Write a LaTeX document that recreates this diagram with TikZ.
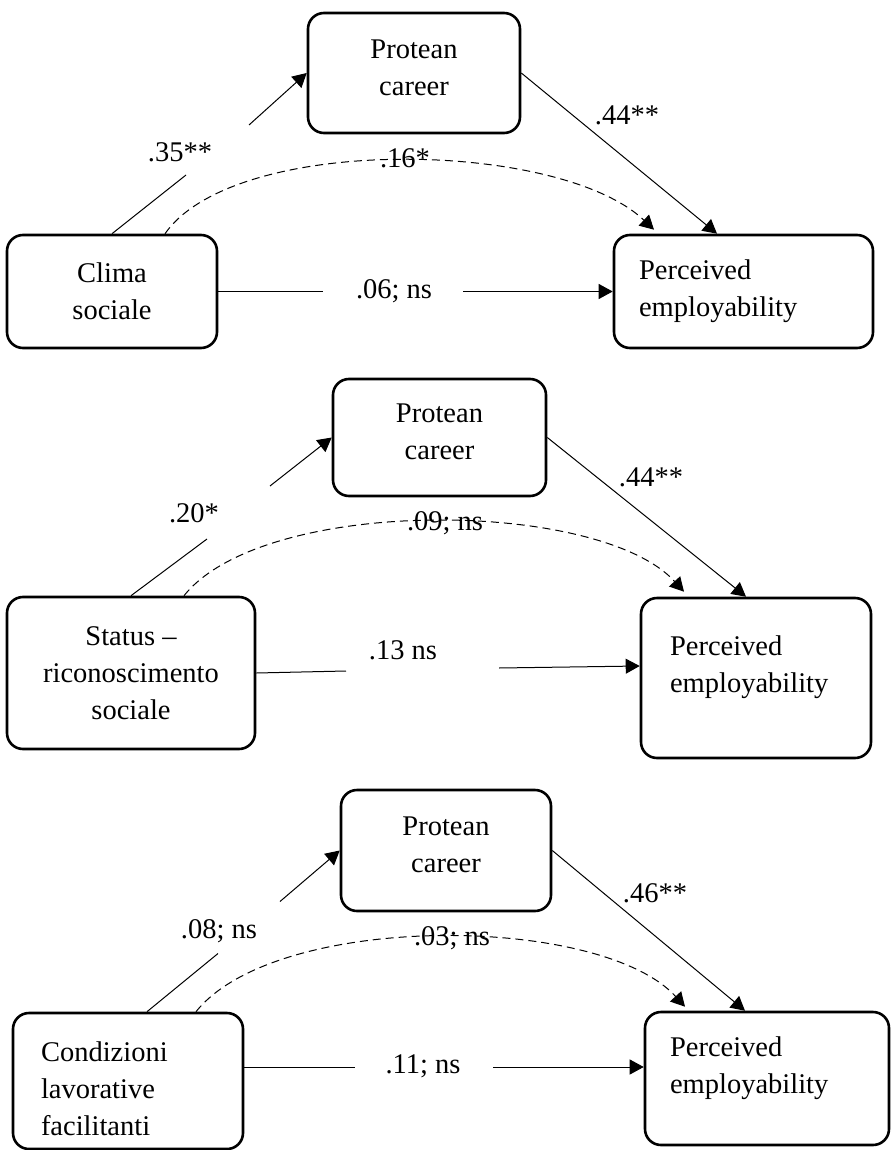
\documentclass[tikz,border=0pt]{standalone}
\usepackage{fontspec}
\setmainfont{Liberation Serif}
\usetikzlibrary{arrows.meta}

\tikzset{
  varbox/.style={draw, line width=2.6pt, rounded corners=16pt, align=center, inner sep=0pt},
  leftbox/.style={varbox, align=left},
  link/.style={line width=1pt},
  arrowlink/.style={link, -{Triangle[length=14pt,width=15pt]}},
  indirect/.style={arrowlink, dash pattern=on 8pt off 5pt},
  coef/.style={inner sep=0pt},
}

\begin{document}
\begin{tikzpicture}[x=1pt,y=-1pt,font=\fontsize{28.5}{37}\selectfont]
\useasboundingbox (0,0) rectangle (891,1150);

\node[varbox, minimum width=212, minimum height=120] (pc1) at (414,73) {Protean\\career\\[-26pt]\mbox{}};
\node[varbox, minimum width=210, minimum height=113] (cs1) at (112,291.5) {Clima\\sociale};
\node[leftbox, text width=209, inner xsep=25, minimum height=113] (pe1) at (743.5,291.5) {Perceived\\employability};
\coordinate (g1a) at (186,175);
\coordinate (g1b) at (249,125);
\coordinate (g1c) at (323,291.5);
\coordinate (g1d) at (463,291.5);
\draw[link] (cs1.north) -- (g1a);
\draw[arrowlink] (g1b) -- (pc1.west);
\draw[indirect] ([xshift=53]cs1.north) .. controls +(70,-100) and +(-95,-90) .. ([xshift=-89.5,yshift=4]pe1.north);
\draw[arrowlink] (pc1.east) -- ([xshift=-26.5]pe1.north);
\draw[link] (cs1.east) -- (g1c);
\draw[arrowlink] (g1d) -- (pe1.west);
\node[coef] (c1a) at (180,152) {.35**};
\node[coef] (c1b) at (405,158) {.16*};
\node[coef] (c1c) at (627,115) {.44**};
\node[coef] (c1d) at (394,291) {.06; ns};

\node[varbox, minimum width=213, minimum height=117] (pc2) at (439.5,437.5) {Protean\\career\\[-26pt]\mbox{}};
\node[varbox, minimum width=248, minimum height=152] (sr2) at (131,673) {Status –\\riconoscimento\\sociale};
\node[leftbox, text width=172, inner xsep=29, minimum height=160] (pe2) at (756,678) {Perceived\\employability\\[-10pt]\mbox{}};
\coordinate (g2a) at (207,539);
\coordinate (g2b) at (270,486);
\coordinate (g2c) at (346,671);
\coordinate (g2d) at (499,668);
\draw[link] (sr2.north) -- (g2a);
\draw[arrowlink] (g2b) -- (pc2.west);
\draw[indirect] ([xshift=53]sr2.north) .. controls +(80,-100) and +(-85,-93) .. ([xshift=-72,yshift=5]pe2.north);
\draw[arrowlink] (pc2.east) -- ([xshift=-10]pe2.north);
\draw[link] (sr2.east) -- (g2c);
\draw[arrowlink] (g2d) -- ([yshift=12]pe2.west);
\node[coef] (c2a) at (194,513) {.20*};
\node[coef] (c2b) at (445,523) {.09; ns};
\node[coef] (c2c) at (651,477) {.44**};
\node[coef] (c2d) at (403,650) {.13 ns};

\node[varbox, minimum width=210, minimum height=121] (pc3) at (446,850.5) {Protean\\career\\[-26pt]\mbox{}};
\node[leftbox, text width=174, inner xsep=28, minimum height=136] (cl3) at (128,1081) {\mbox{}\\[-2pt]Condizioni\\lavorative\\facilitanti};
\node[leftbox, text width=194, inner xsep=25, minimum height=133] (pe3) at (767,1078.5) {Perceived\\employability\\[-10pt]\mbox{}};
\coordinate (g3a) at (218,953.5);
\coordinate (g3b) at (280,901.5);
\coordinate (g3c) at (355,1067);
\coordinate (g3d) at (493,1067);
\draw[link] ([xshift=19]cl3.north) -- (g3a);
\draw[arrowlink] (g3b) -- (pc3.west);
\draw[indirect] ([xshift=68]cl3.north) .. controls +(80,-100) and +(-85,-93) .. ([xshift=-82,yshift=4]pe3.north);
\draw[arrowlink] (pc3.east) -- ([xshift=-22]pe3.north);
\draw[link] ([yshift=14]cl3.east) -- (g3c);
\draw[arrowlink] (g3d) -- ([yshift=11.5]pe3.west);
\node[coef] (c3a) at (219,931) {.08; ns};
\node[coef] (c3b) at (452,938) {.03; ns};
\node[coef] (c3c) at (655,893) {.46**};
\node[coef] (c3d) at (423,1066) {.11; ns};
\end{tikzpicture}
\end{document}
